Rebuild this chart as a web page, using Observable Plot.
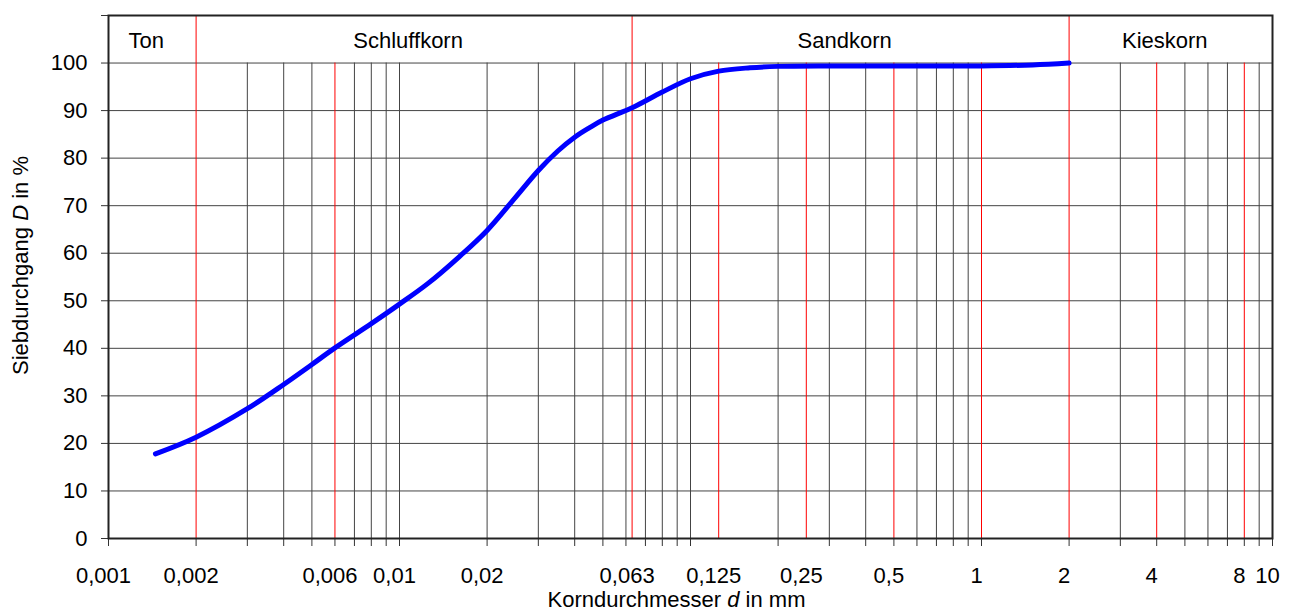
<!DOCTYPE html>
<html>
<head>
<meta charset="utf-8">
<script src="https://cdn.jsdelivr.net/npm/d3@7"></script>
<script src="https://cdn.jsdelivr.net/npm/@observablehq/plot@0.6"></script>
<style>
  html, body { margin: 0; padding: 0; background: #fff; }
</style>
</head>
<body>
<div id="chart"></div>
<script>
// Grain-size distribution (Korndurchmesser d in mm, Siebdurchgang D in %)
const grainSize = [0.00145, 0.002, 0.003, 0.004, 0.005, 0.006, 0.008, 0.01, 0.0125, 0.016,
                   0.02, 0.025, 0.03, 0.035, 0.04, 0.045, 0.05, 0.063, 0.08, 0.1, 0.125,
                   0.16, 0.2, 0.3, 0.5, 1, 1.5, 2];
const passing   = [17.8, 21.3, 27.3, 32.4, 36.6, 40.1, 45.2, 49.3, 53.6, 59.2,
                   64.8, 71.7, 77.4, 81.5, 84.4, 86.4, 88.0, 90.6, 93.9, 96.7, 98.3,
                   99.0, 99.3, 99.4, 99.4, 99.4, 99.6, 100];

const yTicks = [0, 10, 20, 30, 40, 50, 60, 70, 80, 90, 100, 110];
const xTickLabels = [0.001, 0.002, 0.006, 0.01, 0.02, 0.063, 0.125, 0.25, 0.5, 1, 2, 4, 8, 10];
const redLines = [0.002, 0.006, 0.063, 0.125, 0.25, 0.5, 1, 2, 4, 8];
const zoneBounds = [0.001, 0.002, 0.063, 2, 10];
const zoneNames = ["Ton", "Schluffkorn", "Sandkorn", "Kieskorn"];

const yTitle = ["Siebdurchgang ", "D", " in %"];
const xTitle = ["Korndurchmesser ", "d", " in mm"];

// derived
const minor = [];
for (const e of [-3, -2, -1, 0]) for (let n = 1; n <= 9; n++) minor.push(+(n * Math.pow(10, e)).toPrecision(3));
minor.push(10);
const isRed = v => redLines.some(r => Math.abs(r - v) / r < 1e-6);
const grayLines = minor.filter(v => v > 0.001 && v < 10 && !isRed(v));
const fullRed = zoneBounds.slice(1, -1);
const redShort = redLines.filter(v => !fullRed.includes(v));
const zones = zoneNames.map((name, i) => ({name, x: Math.sqrt(zoneBounds[i] * zoneBounds[i + 1])}));
const curveData = grainSize.map((d, i) => ({d, D: passing[i]}));
const fmt = v => String(v).replace(".", ",");
const yTitleText = yTitle.join("");
const xTitleText = xTitle.join("");

const plot = Plot.plot({
  width: 1293,
  height: 612,
  marginLeft: 108,
  marginRight: 21,
  marginTop: 15,
  marginBottom: 74,
  style: {fontFamily: '"Liberation Sans", Arial, Helvetica, sans-serif', fontSize: "22px", color: "#000", background: "#fff"},
  x: {type: "log", domain: [0.001, 10], axis: null},
  y: {domain: [0, 110], axis: null},
  marks: [
    Plot.ruleY(yTicks.filter(v => v > 0 && v <= 100), {stroke: "#444", strokeWidth: 1}),
    Plot.ruleX(grayLines, {y1: 0, y2: 100, stroke: "#444", strokeWidth: 1}),
    Plot.ruleX(redShort, {y1: 0, y2: 100, stroke: "#ff0000", strokeWidth: 1}),
    Plot.ruleX(fullRed, {y1: 0, y2: 110, stroke: "#ff0000", strokeWidth: 1}),
    Plot.axisX({ticks: minor, tickSize: 8, tickFormat: () => "", label: null, stroke: "#333"}),
    Plot.text(xTickLabels, {x: d => d, text: fmt, frameAnchor: "bottom", dy: 37, dx: -5, lineAnchor: "middle"}),
    Plot.axisY({ticks: yTicks, tickSize: 7, tickPadding: 14, tickFormat: v => v > 100 ? "" : String(v), label: null, stroke: "#333", fontVariant: "normal"}),
    Plot.frame({stroke: "#222", strokeWidth: 2}),
    Plot.line(curveData, {x: "d", y: "D", stroke: "#0000ff", strokeWidth: 5, curve: "catmull-rom", strokeLinecap: "round", strokeLinejoin: "round"}),
    Plot.text(zones, {x: "x", text: "name", frameAnchor: "top", dy: 25, dx: -6, lineAnchor: "middle"}),
    Plot.text([yTitleText], {text: d => d, frameAnchor: "left", textAnchor: "middle", rotate: -90, dx: -88, dy: -11.5, lineAnchor: "middle"}),
    Plot.text([xTitleText], {text: d => d, frameAnchor: "bottom", textAnchor: "middle", dy: 61, dx: -14, lineAnchor: "middle"})
  ]
});

// italic symbols inside axis titles
function italicize(root, parts) {
  const full = parts.join("");
  root.querySelectorAll("text").forEach(t => {
    if (t.textContent === full) {
      t.textContent = "";
      parts.forEach((p, k) => {
        const ts = document.createElementNS("http://www.w3.org/2000/svg", "tspan");
        ts.textContent = p;
        if (k === 1) ts.setAttribute("font-style", "italic");
        t.appendChild(ts);
      });
    }
  });
}
italicize(plot, yTitle);
italicize(plot, xTitle);

document.getElementById("chart").appendChild(plot);
</script>
</body>
</html>
